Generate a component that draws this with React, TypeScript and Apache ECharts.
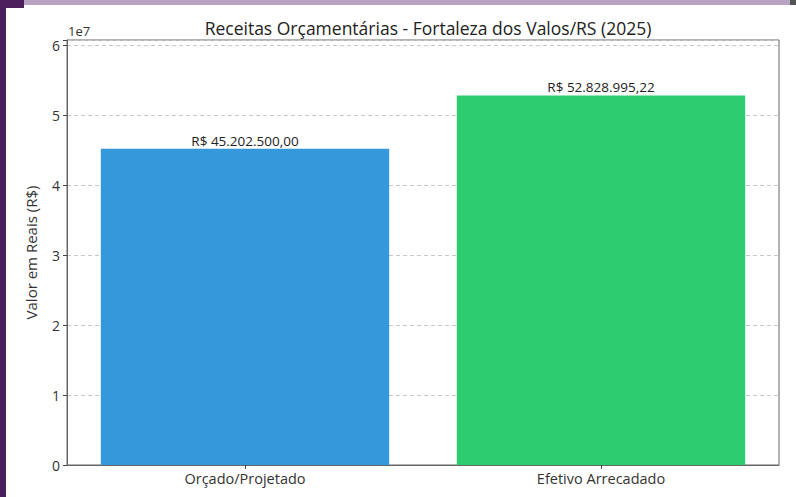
import React, { useEffect, useRef } from "react";
import * as echarts from "echarts";

const categories = ["Orçado/Projetado", "Efetivo Arrecadado"];
const values = [45202500.0, 52828995.22];
const barColors = ["#3498db", "#2ecc71"];
const yTicks = [0, 1, 2, 3, 4, 5, 6];

const FONT = "'Open Sans', Lato, sans-serif";

function formatBRL(v: number): string {
  const [i, d] = v.toFixed(2).split(".");
  const withDots = i.replace(/\B(?=(\d{3})+(?!\d))/g, ".");
  return `R$ ${withDots},${d}`;
}

export default function App() {
  const ref = useRef<HTMLDivElement>(null);
  useEffect(() => {
    if (!ref.current) return;
    const chart = echarts.init(ref.current, undefined, { renderer: "svg" });
    const yMax = Math.max(...values) * 1.15;
    chart.setOption({
      animation: false,
      backgroundColor: "#ffffff",
      textStyle: { fontFamily: FONT },
      title: {
        text: "Receitas Orçamentárias - Fortaleza dos Valos/RS (2025)",
        left: 423,
        top: 14,
        textAlign: "center",
        textStyle: { fontSize: 17.5, fontWeight: "normal", color: "#222", fontFamily: FONT },
      },
      grid: { left: 67, right: 17, top: 40, bottom: 32, show: true, borderColor: "#666", borderWidth: 1, backgroundColor: "transparent" },
      xAxis: {
        type: "category",
        data: categories,
        axisLine: { show: true, lineStyle: { color: "#666" } },
        axisTick: { show: true, alignWithLabel: true, length: 4, lineStyle: { color: "#444" } },
        axisLabel: { fontSize: 14.5, color: "#333", margin: 6, fontFamily: FONT },
      },
      yAxis: {
        type: "value",
        min: 0,
        max: yMax,
        interval: 1e7,
        name: "Valor em Reais (R$)",
        nameLocation: "middle",
        nameGap: 29,
        nameRotate: 90,
        nameTextStyle: { fontSize: 15, color: "#333", fontFamily: FONT },
        axisLine: { show: true, lineStyle: { color: "#666" } },
        axisTick: { show: true, length: 4, lineStyle: { color: "#444" } },
        axisLabel: {
          fontSize: 14,
          color: "#333",
          margin: 7,
          fontFamily: FONT,
          formatter: (v: number) => {
            const t = Math.round(v / 1e7);
            return yTicks.includes(t) && Math.abs(v - t * 1e7) < 1 ? String(t) : "";
          },
        },
        splitLine: { show: true, lineStyle: { color: "#c8c8c8", type: [4, 3], width: 1 } },
      },
      series: [
        {
          type: "bar",
          barWidth: "81%",
          data: values.map((v, i) => ({ value: v, itemStyle: { color: barColors[i] } })),
          label: {
            show: true,
            position: "top",
            distance: 1,
            fontSize: 13.5,
            color: "#222",
            fontFamily: FONT,
            formatter: (p: any) => formatBRL(p.value),
          },
        },
      ],
      graphic: [
        { type: "rect", shape: { x: 0, y: 0, width: 796, height: 5 }, style: { fill: "#b9a3c2" } },
        { type: "rect", shape: { x: 0, y: 0, width: 24, height: 8 }, style: { fill: "#4a1f5c" } },
        { type: "rect", shape: { x: 0, y: 0, width: 6, height: 497 }, style: { fill: "#4a1f5c" } },
        { type: "rect", shape: { x: 790, y: 0, width: 6, height: 5 }, style: { fill: "#555" } },
        { type: "text", left: 68, top: 24, style: { text: "1e7", fontSize: 13, fill: "#333", fontFamily: FONT } },
      ],
    });
    return () => chart.dispose();
  }, []);
  return <div ref={ref} style={{ position: "fixed", left: 0, top: 0, width: 796, height: 497 }} />;
}
